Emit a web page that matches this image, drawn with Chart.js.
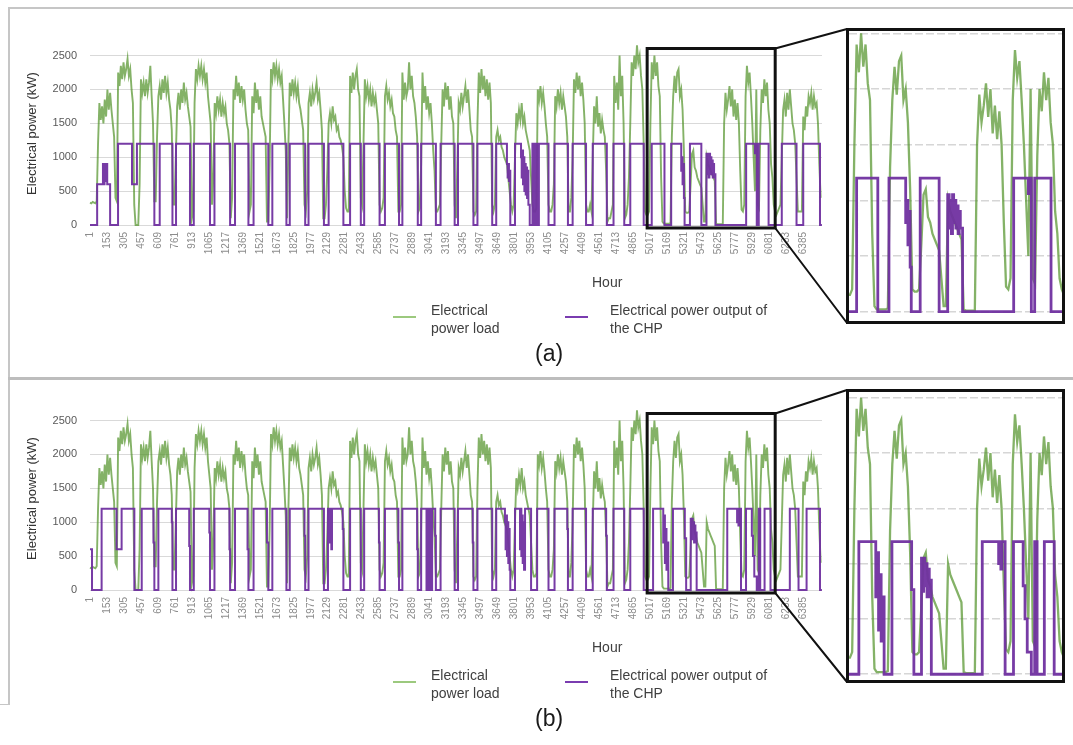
<!DOCTYPE html>
<html>
<head>
<meta charset="utf-8">
<title>Electrical power load and CHP output</title>
<script src="https://cdn.jsdelivr.net/npm/chart.js@4.4.1/dist/chart.umd.min.js"></script>
<style>
  body { margin: 0; width: 1073px; height: 745px; position: relative; overflow: hidden; background: #fff;
         font-family: "Liberation Sans", Arial, sans-serif; color: #404040; }
  canvas { position: absolute; }
  .rule { position: absolute; background: #c6c6c6; }
  .inset { position: absolute; border: 3px solid #111; box-sizing: border-box; background: #fff; }
  .inset canvas { left: 0; top: 0; }
  .txt { position: absolute; font-size: 14px; line-height: 18px; white-space: nowrap; }
  .swatch { position: absolute; width: 23px; height: 2px; }
  .tag { position: absolute; font-size: 23px; color: #1a1a1a; }
</style>
</head>
<body>
<div class="rule" style="left:9px;top:7px;width:1064px;height:2px"></div>
<div class="rule" style="left:8px;top:7px;width:2px;height:372px"></div>
<div class="rule" style="left:8px;top:377px;width:1065px;height:3px;background:#bdbdbd"></div>
<div class="rule" style="left:8px;top:380px;width:2px;height:325px"></div>
<div class="rule" style="left:0;top:704px;width:9px;height:1px"></div>

<canvas id="mainA" width="1073" height="378" style="left:0;top:0"></canvas>
<canvas id="mainB" width="1073" height="378" style="left:0;top:365px"></canvas>

<div class="inset" id="boxA" style="left:846px;top:28px;width:219px;height:296px"><canvas id="insetA" width="213" height="290"></canvas></div>
<div class="inset" id="boxB" style="left:846px;top:389px;width:219px;height:294px"><canvas id="insetB" width="213" height="288"></canvas></div>

<div class="txt" style="left:592px;top:273px">Hour</div>
<div class="swatch" style="left:393px;top:316px;background:#9cc97e"></div>
<div class="txt" style="left:431px;top:301px">Electrical<br>power load</div>
<div class="swatch" style="left:565px;top:316px;background:#7a3cb0"></div>
<div class="txt" style="left:610px;top:301px">Electrical power output of<br>the CHP</div>
<div class="tag" style="left:535px;top:340px">(a)</div>

<div class="txt" style="left:592px;top:638px">Hour</div>
<div class="swatch" style="left:393px;top:681px;background:#9cc97e"></div>
<div class="txt" style="left:431px;top:666px">Electrical<br>power load</div>
<div class="swatch" style="left:565px;top:681px;background:#7a3cb0"></div>
<div class="txt" style="left:610px;top:666px">Electrical power output of<br>the CHP</div>
<div class="tag" style="left:535px;top:705px">(b)</div>

<script>
/* ===================== DATA ===================== */
// hour labels shown on the x axis
const hourTicks = [1, 153, 305, 457, 609, 761, 913, 1065, 1217, 1369, 1521, 1673, 1825, 1977, 2129,
  2281, 2433, 2585, 2737, 2889, 3041, 3193, 3345, 3497, 3649, 3801, 3953, 4105, 4257, 4409, 4561,
  4713, 4865, 5017, 5169, 5321, 5473, 5625, 5777, 5929, 6081, 6233, 6385];
const powerTicks = [0, 500, 1000, 1500, 2000, 2500];

// electrical power load (kW), read every 12 hours, same in (a) and (b)
const loadKW = [
  330, 320, 340, 330, 320, 350, 1200, 1800, 1550, 1750, 1500, 1850, 1600, 2000, 1700, 1950, 1700, 1500, 1300, 400, 350,
  2250, 2050, 2350, 2150, 2400, 2200, 2300, 2450, 2200, 2300, 2000, 1800, 300, 0,
  0, 0, 600, 2150, 1950, 2100, 1900, 2150, 1950, 2100, 2350, 1900, 1500, 350,
  350, 1300, 1900, 2050, 1850, 2150, 1950, 2200, 1950, 2100, 1850, 1700, 1400, 300,
  300, 1000, 1750, 1950, 1700, 2000, 1800, 2100, 1850, 1950, 1750, 1600, 1450, 100,
  200, 1800, 2300, 2150, 2350, 2200, 2350, 2150, 2300, 2100, 2250, 1900, 1700, 1500,
  300, 700, 1800, 1650, 1900, 1700, 1850, 1600, 1800, 1650, 1750, 1500, 1400, 1200,
  100, 400, 2000, 1850, 2200, 1900, 2100, 1800, 2050, 1850, 2000, 1700, 1500, 1400,
  200, 300, 1900, 1650, 2100, 1800, 2000, 1700, 1900, 1600, 1500, 1400, 1300, 50,
  50, 900, 2300, 2150, 2400, 2200, 2350, 2150, 2300, 2100, 2200, 1850, 1500, 1100,
  100, 1200, 2100, 1900, 2150, 1950, 2100, 1900, 2050, 1800, 1700, 1550, 1400, 300,
  200, 500, 1800, 1950, 1750, 2000, 1850, 1950, 2100, 1850, 1950, 1700, 1400, 100,
  100, 300, 800, 1500, 1650, 1500, 1750, 1550, 1600, 1400, 1450, 1300, 1250, 1150,
  1000, 500, 250, 200, 200, 2200, 1950, 2250, 2000, 2200, 2300, 2000, 1900, 400,
  300, 1200, 2150, 1900, 2050, 1850, 2000, 1750, 1950, 1800, 1900, 1700, 1500, 300,
  200, 250, 400, 1900, 2050, 1850, 1950, 1750, 1850, 1650, 1600, 1400, 1300, 200,
  200, 300, 2250, 1850, 2100, 1900, 2000, 2400, 2000, 2200, 1900, 1800, 1600, 1300,
  200, 250, 900, 2250, 1800, 2050, 1700, 1900, 1650, 1800, 1500, 1100, 800, 200,
  200, 250, 300, 1200, 2000, 1750, 2100, 1850, 2050, 1700, 1900, 1600, 1500, 300,
  100, 900, 1800, 1700, 1950, 1750, 1900, 2050, 1800, 2000, 1700, 1400, 1300, 200,
  150, 200, 1500, 2250, 1950, 2300, 2000, 2200, 1900, 2150, 1850, 2100, 1800, 300,
  200, 300, 1300, 1400, 1250, 1300, 1150, 1100, 1000, 950, 900, 700, 500, 300,
  200, 300, 1000, 1650, 1500, 1700, 1550, 1800, 1500, 1600, 1400, 1300, 1200, 1100,
  700, 300, 200, 200, 250, 2000, 1850, 2050, 1800, 1950, 1750, 1500, 1300, 300,
  200, 200, 300, 600, 1900, 1750, 2000, 1800, 1950, 1700, 1900, 1750, 1600, 1300,
  200, 200, 400, 1000, 2150, 1950, 2250, 2000, 2200, 1900, 2100, 1850, 1500, 300,
  200, 200, 300, 200, 1000, 1750, 1500, 1900, 1450, 1650, 1350, 1550, 1400, 1300,
  800, 50, 100, 100, 200, 300, 2200, 1800, 2100, 1700, 2500, 1900, 2200, 1500,
  100, 150, 300, 700, 1500, 2400, 2200, 2500, 2300, 2650, 2400, 2500, 2200, 2000,
  1200, 200, 150, 150, 200, 1500, 2400, 2150, 2500, 2200, 2400, 2050, 1900, 700,
  50, 20, 20, 20, 20, 20, 30, 1300, 1900, 2200, 1950, 2250, 2300, 1900,
  2000, 1700, 1100, 200, 180, 180, 200, 600, 1050, 1100, 850, 800, 700, 650,
  600, 550, 300, 50, 50, 1000, 900, 850, 800, 750, 700, 650, 20, 10,
  10, 10, 10, 10, 1500, 1950, 1700, 1850, 2050, 1750, 2000, 1600, 1850, 1550,
  1800, 1500, 800, 225, 200, 300, 1900, 2350, 2100, 2250, 1900, 1500, 1000, 500,
  2000, 300, 250, 1400, 2000, 1800, 2150, 1900, 2100, 1700, 1500, 900, 700, 300,
  200, 150, 200, 250, 300, 1000, 1700, 1850, 1600, 1950, 1700, 2000, 1750, 1500,
  1400, 1200, 700, 200, 200, 200, 200, 1600, 1400, 1750, 1600, 1900, 1800, 1950,
  1700, 1900, 1750, 1800, 1500, 900, 400
];
const loadHours = loadKW.map((_, i) => 1 + 12 * i);

// CHP electrical output (kW): [hour it starts, value], case (a)
const chpStepsA = [
  [1, 0], [65, 600], [117, 900], [125, 600], [131, 900], [139, 650], [145, 900], [155, 600], [181, 0],
  [252, 1200], [377, 600], [421, 1200], [577, 0], [625, 1200], [739, 0], [771, 1200], [896, 0], [930, 1200],
  [1075, 0], [1115, 1200], [1255, 0], [1299, 1200], [1419, 0], [1465, 1200], [1597, 0], [1633, 1200],
  [1759, 0], [1789, 1200], [1927, 0], [1957, 1200], [2095, 0], [2137, 1200], [2269, 0], [2329, 1200],
  [2425, 0], [2455, 1200], [2593, 0], [2641, 1200], [2767, 0], [2797, 1200], [2935, 0], [2965, 1200],
  [3097, 0], [3139, 1200], [3265, 0], [3295, 1200], [3433, 0], [3469, 1200], [3601, 0], [3637, 1200],
  [3733, 900], [3739, 700], [3745, 900], [3751, 650], [3757, 800], [3763, 0], [3805, 1200],
  [3859, 1000], [3865, 700], [3871, 1100], [3877, 600], [3883, 1000], [3889, 500], [3895, 900],
  [3901, 450], [3907, 850], [3913, 400], [3919, 800], [3925, 300], [3937, 0], [3961, 1200], [3967, 0],
  [3975, 1200], [3981, 0], [3990, 1200], [3996, 0], [4004, 1200], [4010, 0], [4019, 1200],
  [4105, 0], [4159, 1200], [4279, 0], [4321, 1200], [4441, 0], [4501, 1200], [4627, 0], [4687, 1200],
  [4783, 0], [4837, 1200], [4957, 0], [5029, 1200], [5143, 0], [5203, 1200],
  [5293, 800], [5299, 1000], [5305, 600], [5311, 900], [5317, 400], [5323, 0], [5371, 1200], [5473, 0],
  [5519, 1050], [5527, 750], [5533, 1000], [5539, 700], [5545, 1050], [5551, 800], [5557, 1000],
  [5563, 750], [5569, 950], [5575, 700], [5581, 900], [5587, 750], [5599, 0],
  [5874, 1200], [5953, 1060], [5960, 1200], [5969, 0], [5987, 1200], [6075, 0], [6193, 1200],
  [6325, 0], [6385, 1200], [6535, 0], [6552, 0]
];

// CHP electrical output (kW): [hour it starts, value], case (b)
const chpStepsB = [
  [1, 600], [19, 0], [105, 1200], [239, 600], [284, 1200], [398, 0], [464, 1200], [569, 700], [577, 0],
  [613, 1200], [733, 1000], [739, 0], [771, 1200], [889, 650], [896, 0], [930, 1200], [1069, 850],
  [1075, 0], [1115, 1200], [1249, 600], [1255, 0], [1299, 1200], [1411, 600], [1419, 0], [1465, 1200],
  [1585, 700], [1597, 0], [1633, 1200], [1759, 0], [1789, 1200], [1921, 800], [1927, 0], [1957, 1200],
  [2095, 0], [2131, 1200], [2149, 700], [2155, 1200], [2161, 600], [2167, 1200], [2263, 900], [2269, 0],
  [2329, 1200], [2425, 0], [2455, 1200], [2587, 700], [2593, 0], [2641, 1200], [2761, 700], [2767, 0],
  [2797, 1200], [2929, 600], [2935, 0], [2965, 1200], [3013, 0], [3019, 1200], [3025, 0], [3033, 1200],
  [3041, 0], [3049, 1200], [3056, 0], [3063, 1200], [3091, 800], [3097, 0], [3139, 1200], [3265, 0],
  [3295, 1200], [3427, 700], [3433, 0], [3469, 1200], [3601, 0], [3637, 1200],
  [3715, 1000], [3721, 600], [3727, 1100], [3733, 500], [3739, 1000], [3745, 400], [3751, 900],
  [3757, 300], [3763, 0], [3805, 1200], [3850, 600], [3856, 1200], [3862, 500], [3868, 1100],
  [3874, 400], [3880, 1000], [3886, 300], [3895, 1200], [3949, 0], [4003, 1200], [4105, 0], [4159, 1200],
  [4273, 900], [4279, 0], [4321, 1200], [4441, 0], [4501, 1200], [4621, 800], [4627, 0], [4687, 1200],
  [4783, 0], [4837, 1200], [4957, 0], [5041, 1200], [5132, 700], [5139, 1100], [5147, 400], [5154, 900],
  [5161, 300], [5168, 700], [5177, 0], [5219, 1200], [5325, 765], [5337, 0], [5378, 1050], [5384, 750],
  [5390, 1050], [5396, 800], [5402, 1000], [5408, 700], [5414, 950], [5420, 700], [5426, 850], [5431, 0],
  [5705, 1200], [5793, 1000], [5799, 1200], [5805, 950], [5810, 1200], [5828, 0], [5873, 1200],
  [5925, 800], [5935, 500], [5947, 200], [5969, 0], [5987, 1200], [6000, 0], [6039, 1200], [6092, 0],
  [6265, 1200], [6343, 0], [6415, 1200], [6535, 0], [6552, 0]
];

// magnified window: hours and kW covered by the black frame
const zoomHours = [4988, 6134];
const zoomKW = [2604, -44];

/* ===================== HELPERS ===================== */
Chart.defaults.font.family = "'Liberation Sans', Arial, sans-serif";

const GREEN = "rgba(80,145,38,0.7)";
const PURPLE = "rgba(112,48,160,0.95)";

function seriesData(steps) {
  return [
    {
      label: "Electrical power output of the CHP",
      data: steps.map(([h, kw]) => ({ x: h, y: kw })),
      stepped: true,
      borderColor: PURPLE,
      borderWidth: 2,
      order: 0,
      clip: 3
    },
    {
      label: "Electrical power load",
      data: loadKW.map((kw, i) => ({ x: loadHours[i], y: kw })),
      borderColor: GREEN,
      borderWidth: 1.9,
      order: 1,
      clip: 3
    }
  ];
}

// black frame on the main chart plus the two lines to the inset
const zoomFrame = {
  id: "zoomFrame",
  afterDatasetsDraw(chart, args, opts) {
    const { ctx, scales: { x, y } } = chart;
    const l = x.getPixelForValue(zoomHours[0]);
    const r = x.getPixelForValue(zoomHours[1]);
    const t = y.getPixelForValue(zoomKW[0]);
    const b = y.getPixelForValue(zoomKW[1]);
    const box = document.getElementById(opts.target);
    const bx = box.offsetLeft + 1;
    const by = box.offsetTop - chart.canvas.offsetTop;
    ctx.save();
    ctx.strokeStyle = "#111";
    ctx.lineWidth = 3;
    ctx.strokeRect(l, t, r - l, b - t);
    ctx.lineWidth = 2;
    ctx.beginPath();
    ctx.moveTo(r, t);
    ctx.lineTo(bx, by + 1);
    ctx.moveTo(r, b);
    ctx.lineTo(bx, by + box.offsetHeight - 1);
    ctx.stroke();
    ctx.restore();
  }
};

function mainChart(id, steps, target) {
  return new Chart(document.getElementById(id), {
    type: "line",
    data: { datasets: seriesData(steps) },
    plugins: [zoomFrame],
    options: {
      responsive: false,
      animation: false,
      events: [],
      elements: { point: { radius: 0 }, line: { tension: 0 } },
      layout: { padding: { left: 0, right: 251, top: 42, bottom: 0 } },
      plugins: { legend: { display: false }, tooltip: { enabled: false }, zoomFrame: { target } },
      scales: {
        x: {
          type: "linear",
          min: 1,
          max: 6553,
          afterBuildTicks: (s) => { s.ticks = hourTicks.map((v) => ({ value: v })); },
          afterFit: (s) => { s.height = 153; },
          grid: { display: false, drawTicks: false },
          border: { display: false },
          ticks: {
            autoSkip: false,
            minRotation: 90,
            maxRotation: 90,
            padding: 7,
            color: "#8c8c8c",
            font: { size: 10 },
            callback: (v) => String(v)
          }
        },
        y: {
          min: 0,
          max: 2700,
          afterBuildTicks: (s) => { s.ticks = powerTicks.map((v) => ({ value: v })); },
          afterFit: (s) => { s.width = 90; },
          grid: { color: "#d9d9d9", drawTicks: false },
          border: { display: false },
          ticks: { padding: 13, color: "#595959", font: { size: 11 }, callback: (v) => String(v) },
          title: {
            display: true,
            text: "Electrical power (kW)",
            color: "#333",
            font: { size: 13 },
            padding: { top: 25, bottom: 0 }
          }
        }
      }
    }
  });
}

function insetChart(id, steps, yMin, yMax) {
  const sets = seriesData(steps);
  sets[0].borderWidth = 2.8;
  sets[1].borderWidth = 2.3;
  sets.forEach((d) => { d.clip = 0; });
  return new Chart(document.getElementById(id), {
    type: "line",
    data: { datasets: sets },
    options: {
      responsive: false,
      animation: false,
      events: [],
      elements: { point: { radius: 0 }, line: { tension: 0 } },
      layout: { padding: 0 },
      plugins: { legend: { display: false }, tooltip: { enabled: false } },
      scales: {
        x: { type: "linear", min: zoomHours[0], max: zoomHours[1], display: false },
        y: {
          min: yMin,
          max: yMax,
          afterBuildTicks: (s) => { s.ticks = powerTicks.map((v) => ({ value: v })); },
          afterFit: (s) => { s.width = 0; },
          grid: { color: "#d6d6d6", lineWidth: 1.5, drawTicks: false },
          border: { display: false, dash: [8, 3] },
          ticks: { display: false }
        }
      }
    }
  });
}

/* ===================== CHARTS ===================== */
mainChart("mainA", chpStepsA, "boxA");
mainChart("mainB", chpStepsB, "boxB");
insetChart("insetA", chpStepsA, -84, 2521);
insetChart("insetB", chpStepsB, -52, 2552);
</script>
</body>
</html>
